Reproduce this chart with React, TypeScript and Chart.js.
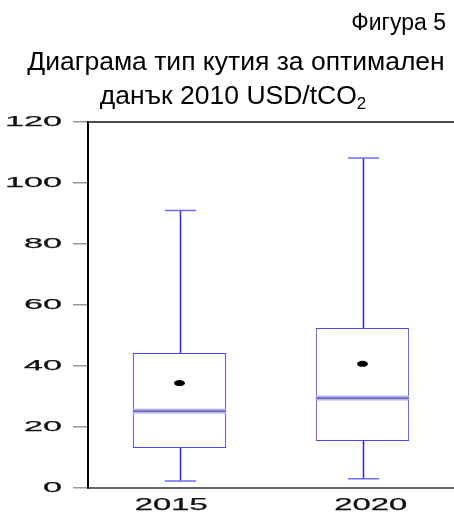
import { useEffect, useRef } from 'react';
import { Chart, registerables } from 'chart.js';

Chart.register(...registerables);

// Box-plot summary per year (USD/tCO2, 2010 prices)
const categories = ['2015', '2020'];
const whiskerLow = [2.3, 3.0];
const quartile1 = [13.1, 15.4];
const medians = [25.2, 29.5];
const quartile3 = [44.3, 52.5];
const whiskerHigh = [91.0, 108.2];
const means = [34.4, 40.7];

// Value axis
const yTickValues = [0, 20, 40, 60, 80, 100, 120];
const yTickLabels = ['0', '20', '40', '60', '80', '100', '120'];

// Heading text
const figureLabel = 'Фигура 5';
const titleLine1 = 'Диаграма тип кутия за оптимален';
const titleLine2 = 'данък 2010 USD/tCO';
const titleSub = '2';

const FONT = '"Liberation Sans", Arial, Helvetica, sans-serif';

const boxPlotPlugin = {
  id: 'boxPlotExtras',
  beforeDatasetsDraw(chart: any) {
    const { ctx } = chart;
    const x = chart.scales.x;
    const y = chart.scales.y;
    const meta = chart.getDatasetMeta(0);
    categories.forEach((_, i) => {
      const cx = Math.round(x.getPixelForValue(i)) + 0.5;
      const w = meta.data[i].width;
      const capHalf = w / 6;
      ctx.save();
      // whisker stems
      ctx.strokeStyle = '#2626ff';
      ctx.lineWidth = 1.5;
      ctx.beginPath();
      ctx.moveTo(cx, y.getPixelForValue(whiskerLow[i]));
      ctx.lineTo(cx, y.getPixelForValue(quartile1[i]));
      ctx.moveTo(cx, y.getPixelForValue(quartile3[i]));
      ctx.lineTo(cx, y.getPixelForValue(whiskerHigh[i]));
      ctx.stroke();
      // whisker caps
      ctx.strokeStyle = '#6c6cff';
      ctx.lineWidth = 1.5;
      ctx.beginPath();
      for (const v of [whiskerLow[i], whiskerHigh[i]]) {
        const py = y.getPixelForValue(v);
        ctx.moveTo(cx - capHalf, py);
        ctx.lineTo(cx + capHalf, py);
      }
      ctx.stroke();
      ctx.restore();
    });
  },
  afterDatasetsDraw(chart: any) {
    const { ctx } = chart;
    const x = chart.scales.x;
    const y = chart.scales.y;
    const meta = chart.getDatasetMeta(0);
    categories.forEach((_, i) => {
      const cx = x.getPixelForValue(i);
      const w = meta.data[i].width;
      const left = cx - w / 2;
      const py = y.getPixelForValue(medians[i]);
      ctx.save();
      // median band
      ctx.fillStyle = '#b3b3f0';
      ctx.fillRect(left, py - 2.5, w, 5);
      ctx.strokeStyle = '#55559a';
      ctx.lineWidth = 1.3;
      ctx.beginPath();
      ctx.moveTo(left, py);
      ctx.lineTo(left + w, py);
      ctx.stroke();
      // mean marker
      ctx.fillStyle = '#000';
      ctx.beginPath();
      ctx.ellipse(cx, y.getPixelForValue(means[i]), 5.5, 3, 0, 0, Math.PI * 2);
      ctx.fill();
      ctx.restore();
    });
  },
  afterDraw(chart: any) {
    const { ctx, chartArea } = chart;
    const x = chart.scales.x;
    const y = chart.scales.y;
    ctx.save();

    // top frame line
    ctx.strokeStyle = '#111';
    ctx.lineWidth = 1.5;
    ctx.beginPath();
    ctx.moveTo(chartArea.left, chartArea.top);
    ctx.lineTo(chartArea.right, chartArea.top);
    ctx.stroke();

    // y tick labels (wide lettering)
    ctx.fillStyle = '#111';
    ctx.strokeStyle = '#111';
    ctx.lineWidth = 0.25;
    ctx.font = `15.5px ${FONT}`;
    ctx.textAlign = 'right';
    ctx.textBaseline = 'middle';
    yTickValues.forEach((v, i) => {
      const py = y.getPixelForValue(v);
      ctx.save();
      ctx.translate(62, py);
      ctx.scale(2.2, 1);
      ctx.fillText(yTickLabels[i], 0, 0);
      ctx.strokeText(yTickLabels[i], 0, 0);
      ctx.restore();
    });

    // x category labels
    ctx.font = `16px ${FONT}`;
    ctx.textAlign = 'center';
    const mid = (chartArea.left + chartArea.right) / 2;
    categories.forEach((c, i) => {
      const px = x.getPixelForValue(i);
      const lx = mid + (px - mid) * 1.09;
      ctx.save();
      ctx.translate(lx, 506);
      ctx.scale(2.05, 1);
      ctx.fillText(c, 0, 0);
      ctx.strokeText(c, 0, 0);
      ctx.restore();
    });

    // heading
    ctx.textBaseline = 'alphabetic';
    ctx.fillStyle = '#000';
    ctx.font = `23px ${FONT}`;
    ctx.textAlign = 'right';
    ctx.fillText(figureLabel, 446, 30);

    ctx.font = `26.5px ${FONT}`;
    ctx.textAlign = 'center';
    ctx.fillText(titleLine1, 236, 70);

    ctx.textAlign = 'left';
    const mainW = ctx.measureText(titleLine2).width;
    ctx.font = `17px ${FONT}`;
    const subW = ctx.measureText(titleSub).width;
    const start = 233 - (mainW + subW) / 2;
    ctx.font = `26.5px ${FONT}`;
    ctx.fillText(titleLine2, start, 104);
    ctx.font = `17px ${FONT}`;
    ctx.fillText(titleSub, start + mainW, 109);

    ctx.restore();
  },
};

export default function App() {
  const canvasRef = useRef<HTMLCanvasElement | null>(null);

  useEffect(() => {
    if (!canvasRef.current) return;
    const chart = new Chart(canvasRef.current, {
      type: 'bar',
      data: {
        labels: categories,
        datasets: [
          {
            data: quartile1.map((q, i) => [q, quartile3[i]]) as any,
            backgroundColor: 'rgba(255,255,255,0)',
            borderColor: '#4545ff',
            borderWidth: 1,
            borderSkipped: false,
            barPercentage: 0.51,
            categoryPercentage: 1,
          },
        ],
      },
      options: {
        animation: false,
        responsive: false,
        devicePixelRatio: 1,
        layout: { padding: { top: 122, right: 0, left: 0, bottom: 0 } },
        plugins: {
          legend: { display: false },
          title: { display: false },
          tooltip: { enabled: false },
        },
        scales: {
          x: {
            type: 'category',
            offset: true,
            ticks: { display: false },
            grid: { display: false },
            border: { display: true, color: '#666', width: 2 },
            afterFit: (s: any) => {
              s.height = 27;
            },
          },
          y: {
            min: 0,
            max: 120,
            ticks: { display: false, stepSize: 20 },
            grid: {
              drawOnChartArea: false,
              drawTicks: true,
              tickLength: 15,
              color: '#9a9a9a',
              lineWidth: 1.5,
            },
            border: { display: true, color: '#000', width: 2 },
            afterFit: (s: any) => {
              s.width = 88;
            },
          },
        },
      },
      plugins: [boxPlotPlugin],
    });
    return () => chart.destroy();
  }, []);

  return (
    <div style={{ position: 'fixed', left: 0, top: 0, width: 454, height: 515, background: '#fff' }}>
      <canvas ref={canvasRef} width={454} height={515} style={{ display: 'block' }} />
    </div>
  );
}
